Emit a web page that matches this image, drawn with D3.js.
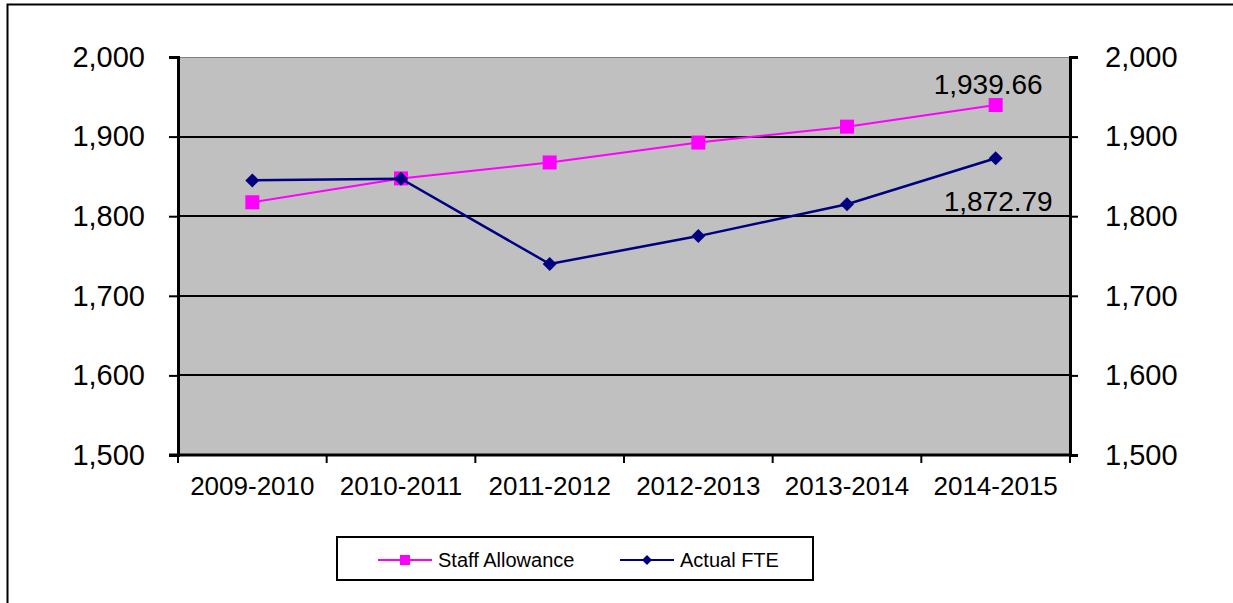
<!DOCTYPE html>
<html>
<head>
<meta charset="utf-8">
<script src="https://cdn.jsdelivr.net/npm/d3@7"></script>
<style>
  body { margin: 0; background: #fff; }
  svg { display: block; font-family: Arial, "Liberation Sans", sans-serif; }
</style>
</head>
<body>
<div id="chart"></div>
<script>
// data
const years     = ['2009-2010', '2010-2011', '2011-2012', '2012-2013', '2013-2014', '2014-2015']
const allowance = [1817.5, 1847.5, 1867.5, 1892.5, 1912.5, 1939.66]
const actual    = [1845, 1847, 1740, 1775, 1815, 1872.79]
const yTicks    = [1500, 1600, 1700, 1800, 1900, 2000]

const W = 1233, H = 603,
      m = { l: 178, r: 1070, t: 57, b: 455 }

const svg = d3.select('#chart').append('svg')
  .attr('width', W)
  .attr('height', H)

// frame (only top + left edges visible)
svg.append('path')
  .attr('d', 'M7.5,' + H + 'V4.5H' + W)
  .attr('fill', 'none')
  .attr('stroke', '#000')
  .attr('stroke-width', 2)

const x = d3.scaleBand().domain(years).range([m.l, m.r]),
      y = d3.scaleLinear().domain([1500, 2000]).range([m.b, m.t]),
      cx = d => x(d) + x.bandwidth() / 2

// diamond marker, r = half diagonal
function _diamond(r) { return 'M0,' + (-r) + 'L' + r + ',0L0,' + r + 'L' + (-r) + ',0Z' }

// plot area
svg.append('rect')
  .attr('x', m.l).attr('y', m.t)
  .attr('width', m.r - m.l).attr('height', m.b - m.t)
  .attr('fill', '#c0c0c0')
svg.append('line')
  .attr('x1', m.l).attr('x2', m.r)
  .attr('y1', m.t + 0.5).attr('y2', m.t + 0.5)
  .attr('stroke', '#808080')

// gridlines
svg.append('g').selectAll('line')
  .data(yTicks.filter(v => v > 1500 && v < 2000))
  .join('line')
  .attr('x1', m.l).attr('x2', m.r)
  .attr('y1', d => Math.round(y(d))).attr('y2', d => Math.round(y(d)))
  .attr('stroke', '#000')
  .attr('stroke-width', 2)

const fmt = d3.format(',')

// left axis
const yl = svg.append('g')
  .attr('transform', 'translate(' + m.l + ',0)')
  .call(d3.axisLeft(y).tickValues(yTicks).tickFormat(fmt).tickSize(9).tickPadding(24))
// right axis
const yr = svg.append('g')
  .attr('transform', 'translate(' + m.r + ',0)')
  .call(d3.axisRight(y).tickValues(yTicks).tickFormat(fmt).tickSize(8).tickPadding(27))

;[yl, yr].forEach(g => {
  g.select('.domain').attr('stroke-width', 3)
  g.selectAll('.tick line').attr('stroke-width', 2)
  g.selectAll('text')
    .attr('font-size', 29)
    .attr('fill', '#000')
    .attr('font-family', 'Arial, "Liberation Sans", sans-serif')
})

// bottom axis
const xa = svg.append('g')
  .attr('transform', 'translate(0,' + m.b + ')')
  .call(d3.axisBottom(x).tickSize(0).tickPadding(22))
xa.select('.domain').remove()
xa.selectAll('text')
  .attr('font-size', 26)
  .attr('fill', '#000')
  .attr('font-family', 'Arial, "Liberation Sans", sans-serif')
svg.append('line')
  .attr('x1', m.l - 9).attr('x2', m.r)
  .attr('y1', m.b).attr('y2', m.b)
  .attr('stroke', '#000').attr('stroke-width', 3)
svg.append('g').selectAll('line')
  .data(years.map(d => x(d)).concat([m.r]))
  .join('line')
  .attr('x1', d => d).attr('x2', d => d)
  .attr('y1', m.b).attr('y2', m.b + 8)
  .attr('stroke', '#000').attr('stroke-width', 2)

const line = d3.line().x((d, i) => cx(years[i])).y(d => y(d))

// Staff Allowance
svg.append('path')
  .datum(allowance)
  .attr('d', line)
  .attr('fill', 'none')
  .attr('stroke', '#ff00ff')
  .attr('stroke-width', 2)
svg.append('g').selectAll('rect')
  .data(allowance)
  .join('rect')
  .attr('x', (d, i) => cx(years[i]) - 7)
  .attr('y', d => y(d) - 7)
  .attr('width', 14).attr('height', 14)
  .attr('fill', '#ff00ff')

// Actual FTE
svg.append('path')
  .datum(actual)
  .attr('d', line)
  .attr('fill', 'none')
  .attr('stroke', '#000080')
  .attr('stroke-width', 2.5)
svg.append('g').selectAll('path')
  .data(actual)
  .join('path')
  .attr('d', _diamond(7))
  .attr('transform', (d, i) => 'translate(' + cx(years[i]) + ',' + y(d) + ')')
  .attr('fill', '#000080')

// value labels on the last point
const last = years.length - 1
svg.append('text')
  .attr('x', cx(years[last]) + 47).attr('y', y(allowance[last]) - 11)
  .attr('text-anchor', 'end')
  .attr('font-size', 28)
  .text(d3.format(',.2f')(allowance[last]))
svg.append('text')
  .attr('x', cx(years[last]) + 57).attr('y', y(actual[last]) + 53)
  .attr('text-anchor', 'end')
  .attr('font-size', 28)
  .text(d3.format(',.2f')(actual[last]))

// legend
const lg = svg.append('g').attr('transform', 'translate(337,537)')
lg.append('rect')
  .attr('width', 476).attr('height', 43)
  .attr('fill', '#fff')
  .attr('stroke', '#000').attr('stroke-width', 2)

const legendItems = [
  { name: 'Staff Allowance', color: '#ff00ff', shape: 'square', x0: 41 },
  { name: 'Actual FTE', color: '#000080', shape: 'diamond', x0: 283 }
]
legendItems.forEach(it => {
  const g = lg.append('g').attr('transform', 'translate(' + it.x0 + ',23)')
  g.append('line')
    .attr('x1', 0).attr('x2', 54)
    .attr('stroke', it.color).attr('stroke-width', 2)
  if (it.shape === 'square')
    g.append('rect').attr('x', 22).attr('y', -5).attr('width', 10).attr('height', 10).attr('fill', it.color)
  else
    g.append('path').attr('d', _diamond(5)).attr('transform', 'translate(27,0)').attr('fill', it.color)
  g.append('text')
    .attr('x', 60).attr('y', 7)
    .attr('font-size', 20)
    .text(it.name)
})
</script>
</body>
</html>
